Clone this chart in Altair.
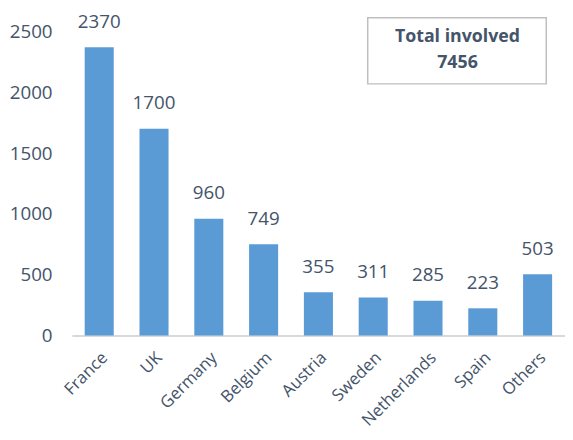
import altair as alt
import pandas as pd

countries = ["France", "UK", "Germany", "Belgium", "Austria", "Sweden", "Netherlands", "Spain", "Others"]
values = [2370, 1700, 960, 749, 355, 311, 285, 223, 503]
y_ticks = [0, 500, 1000, 1500, 2000, 2500]
box_lines = ["Total involved", "7456"]

df = pd.DataFrame({"country": countries, "value": values})

FONT = "Open Sans"
TXT = "#44546A"

x_enc = alt.X("country:N", sort=countries, title=None,
              scale=alt.Scale(paddingInner=0.47, paddingOuter=0.235),
              axis=alt.Axis(labelAngle=-45, labelFontSize=17, labelFont=FONT, labelColor=TXT,
                            ticks=False, domainColor="#D9D9D9", domainWidth=2, labelPadding=14))
y_enc = alt.Y("value:Q", title=None,
              scale=alt.Scale(domain=[0, 2670], nice=False),
              axis=alt.Axis(values=y_ticks, format="d", grid=False, domain=False, ticks=False,
                            labelFontSize=19, labelFont=FONT, labelColor=TXT, labelPadding=20))

bars = alt.Chart(df).mark_bar(color="#5B9BD5").encode(x=x_enc, y=y_enc)
labels = alt.Chart(df).mark_text(baseline="middle", dy=-26, fontSize=19, font=FONT, color=TXT).encode(
    x=alt.X("country:N", sort=countries), y="value:Q", text="value:Q")

box = alt.Chart(pd.DataFrame({"a": [0]})).mark_rect(fill="white", stroke="#BFBFBF", strokeWidth=1.5).encode(
    x=alt.value(300), x2=alt.value(481), y=alt.value(7), y2=alt.value(74))
box_df = pd.DataFrame({"t": box_lines, "yy": [27, 53]})
box_text = alt.Chart(box_df).mark_text(fontSize=18, fontWeight="bold", font=FONT, color=TXT,
                                       baseline="middle", align="center").encode(
    x=alt.value(391), y=alt.Y("yy:Q", scale=None), text="t:N")

chart = alt.layer(bars, labels, box, box_text).properties(
    width=500, height=329,
    autosize=alt.AutoSizeParams(type="none"),
    padding={"left": 64.7, "top": 0, "right": 0, "bottom": 95},
).configure_view(stroke=None)

chart.save("out.html", embed_options={"renderer": "svg", "actions": False})
